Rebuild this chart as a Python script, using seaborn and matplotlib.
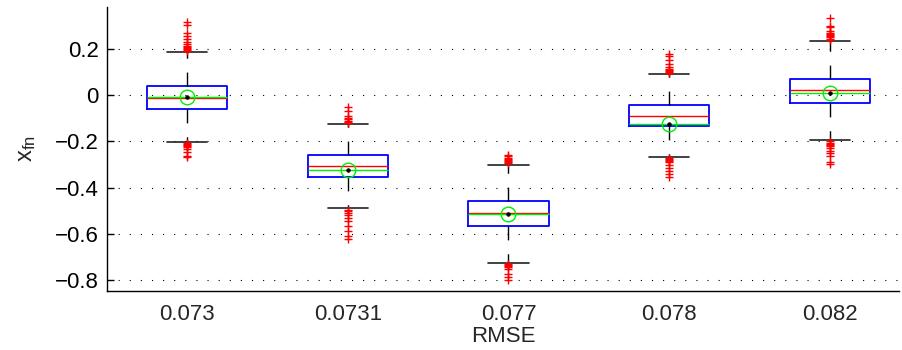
import numpy as np
import pandas as pd
import matplotlib
matplotlib.use("Agg")
import matplotlib.pyplot as plt
import seaborn as sns

# ---- data ----
categories = ["0.073", "0.0731", "0.077", "0.078", "0.082"]
whisker_low = [-0.202, -0.489, -0.726, -0.267, -0.192]
q1 = [-0.058, -0.352, -0.566, -0.133, -0.033]
median = [-0.010, -0.306, -0.512, -0.088, 0.022]
q3 = [0.038, -0.258, -0.460, -0.043, 0.072]
whisker_high = [0.185, -0.123, -0.300, 0.092, 0.234]
means = [-0.006, -0.322, -0.516, -0.126, 0.011]

outliers_0073 = [0.19, 0.195, 0.20, 0.205, 0.21, 0.215, 0.22, 0.23, 0.242, 0.257,
                 0.271, 0.303, 0.317,
                 -0.205, -0.21, -0.215, -0.22, -0.225, -0.234, -0.247, -0.264, -0.268]
outliers_00731 = [-0.053, -0.069, -0.09, -0.10, -0.105, -0.11, -0.115, -0.12,
                  -0.495, -0.50, -0.51, -0.52, -0.53, -0.545, -0.567, -0.59, -0.61, -0.623]
outliers_0077 = [-0.258, -0.265, -0.27, -0.275, -0.28, -0.285, -0.29, -0.295,
                 -0.73, -0.735, -0.74, -0.745, -0.753, -0.775, -0.788, -0.80]
outliers_0078 = [0.095, 0.10, 0.105, 0.11, 0.115, 0.12, 0.134, 0.153, 0.169, 0.177,
                 -0.27, -0.275, -0.28, -0.285, -0.29, -0.30, -0.313, -0.328, -0.342, -0.356]
outliers_0082 = [0.24, 0.245, 0.25, 0.255, 0.26, 0.265, 0.27, 0.28, 0.294, 0.30, 0.336,
                 -0.20, -0.205, -0.21, -0.215, -0.22, -0.23, -0.24, -0.25, -0.263, -0.291, -0.299]
outlier_lists = [outliers_0073, outliers_00731, outliers_0077, outliers_0078, outliers_0082]

yticks = [-0.8, -0.6, -0.4, -0.2, 0.0, 0.2]
ytick_labels = ["\u22120.8", "\u22120.6", "\u22120.4", "\u22120.2", "0", "0.2"]

# ---- tables for seaborn ----
box_rows = []
for c, a, b, m, d, e in zip(categories, whisker_low, q1, median, q3, whisker_high):
    for v in (a, b, m, d, e):
        box_rows.append({"RMSE": c, "value": v})
box_df = pd.DataFrame(box_rows)

out_df = pd.DataFrame([{"RMSE": c, "value": v}
                       for c, lst in zip(categories, outlier_lists) for v in lst])
mean_df = pd.DataFrame({"RMSE": categories, "value": means})

# ---- figure ----
sns.set_style("white")
plt.rcParams["font.family"] = ["Liberation Sans", "DejaVu Sans"]
plt.rcParams["mathtext.fontset"] = "custom"
plt.rcParams["mathtext.rm"] = "Liberation Sans"

fig = plt.figure(figsize=(9.03, 3.5), dpi=100)
ax = fig.add_axes([107 / 903, 1 - 291 / 350, (899 - 107) / 903, (291 - 7) / 350])

ax.yaxis.grid(True, linestyle=(0, (1, 9)), color="black", linewidth=0.8)
ax.set_axisbelow(True)

sns.boxplot(data=box_df, x="RMSE", y="value", order=categories, ax=ax,
            whis=(0, 100), width=0.5, fill=False, showfliers=False,
            saturation=1, color="blue", linewidth=1.0,
            boxprops=dict(color="blue", linewidth=1.3),
            whiskerprops=dict(color="black", linestyle=(0, (10, 10)), linewidth=1.0),
            capprops=dict(color="#222222", linewidth=1.2),
            medianprops=dict(color="red", linewidth=1.0))

# mean lines (green) across each box
pos = np.arange(len(categories))
ax.hlines(means, pos - 0.25, pos + 0.25, colors="#00ee00", linewidth=1.0, zorder=3)

# outliers
sns.stripplot(data=out_df, x="RMSE", y="value", order=categories, ax=ax,
              jitter=False, marker="+", color="red", size=6, linewidth=1.0, zorder=4)

# mean markers
sns.pointplot(data=mean_df, x="RMSE", y="value", order=categories, ax=ax,
              linestyle="none", marker="o", color="#00ee00", markerfacecolor="none",
              markersize=10.5, markeredgewidth=1.0, errorbar=None, zorder=5)
sns.pointplot(data=mean_df, x="RMSE", y="value", order=categories, ax=ax,
              linestyle="none", marker="o", color="black", markersize=2.6,
              markeredgewidth=0.5, errorbar=None, zorder=6)

# axes spans 0.5 category units left of the first box; cropped on the right
ax.set_xlim(-0.5, 4.5 - 11 / 160.6)
ax.set_ylim(-0.8476, 0.3818)
ax.set_yticks(yticks)
ax.set_yticklabels(ytick_labels)
ax.tick_params(axis="y", direction="in", length=5, width=1, labelsize=16, pad=6,
               left=True, colors="black")
ax.tick_params(axis="x", length=0, labelsize=16, pad=9)

for s in ("top", "right"):
    ax.spines[s].set_visible(False)
for s in ("left", "bottom"):
    ax.spines[s].set_color("black")
    ax.spines[s].set_linewidth(1.0)

ax.set_xlabel("RMSE", fontsize=16, labelpad=1)
ax.set_ylabel(r"$\mathregular{x_{fn}}$", fontsize=17, labelpad=12)

fig.savefig("out.png", dpi=100)
